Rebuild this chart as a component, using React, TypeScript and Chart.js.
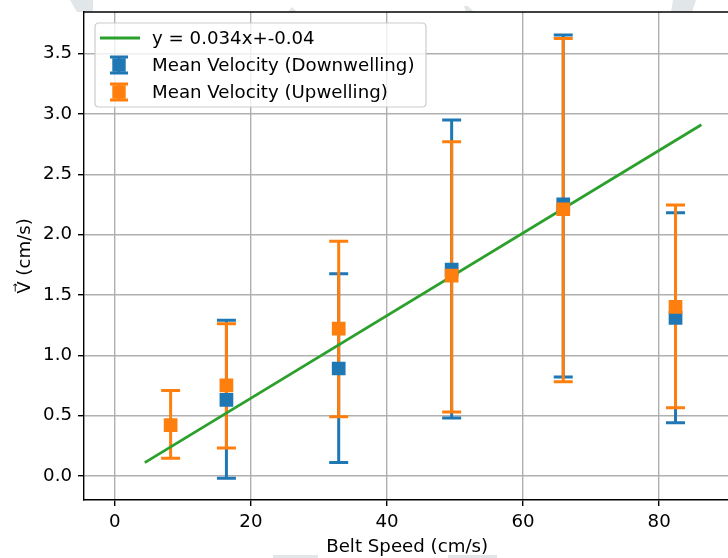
import { useEffect, useRef } from "react";
import { Chart, registerables } from "chart.js";

Chart.register(...registerables);

const fitLabel = "y = 0.034x+-0.04";
const downLabel = "Mean Velocity (Downwelling)";
const upLabel = "Mean Velocity (Upwelling)";
const xTitle = "Belt Speed (cm/s)";
const yTitle = "V\u20D7 (cm/s)";

const speedDown = [16.4, 32.9, 49.5, 65.9, 82.4];
const meanDown = [0.63, 0.89, 1.71, 2.25, 1.31];
const lowDown = [-0.02, 0.11, 0.48, 0.82, 0.44];
const highDown = [1.29, 1.675, 2.95, 3.655, 2.18];

const speedUp = [8.2, 16.4, 32.9, 49.5, 65.9, 82.4];
const meanUp = [0.42, 0.75, 1.22, 1.66, 2.21, 1.4];
const lowUp = [0.147, 0.23, 0.49, 0.53, 0.78, 0.565];
const highUp = [0.707, 1.26, 1.945, 2.77, 3.625, 2.245];

const fitX = [4.4, 86.2];
const fitY = [0.11, 2.91];

const xTicks = [0, 20, 40, 60, 80];
const yTicks = [0, 0.5, 1, 1.5, 2, 2.5, 3, 3.5];

const BLUE = "#1f77b4";
const ORANGE = "#ff7f0e";
const GREEN = "#2ca02c";
const FONT = "'DejaVu Sans', sans-serif";
const FS = 18.2;
const FIT_WIDTH = 2.8;

// Error bars sit below every marker and the fit line (matplotlib zorder).
const errorBarPlugin = {
  id: "errorBars",
  beforeDatasetsDraw(chart: any) {
    const ctx = chart.ctx;
    const xs = chart.scales.x;
    const ys = chart.scales.y;
    const sets = chart.data.datasets
      .filter((d: any) => d.errLow)
      .sort((a: any, b: any) => b.order - a.order);
    ctx.save();
    ctx.lineWidth = 3;
    sets.forEach((ds: any) => {
      ctx.strokeStyle = ds.backgroundColor;
      ds.data.forEach((p: any, i: number) => {
        const px = xs.getPixelForValue(p.x);
        const pLo = ys.getPixelForValue(ds.errLow[i]);
        const pHi = ys.getPixelForValue(ds.errHigh[i]);
        ctx.beginPath();
        ctx.moveTo(px, pLo);
        ctx.lineTo(px, pHi);
        ctx.moveTo(px - 9.5, pLo);
        ctx.lineTo(px + 9.5, pLo);
        ctx.moveTo(px - 9.5, pHi);
        ctx.lineTo(px + 9.5, pHi);
        ctx.stroke();
      });
    });
    ctx.restore();
  },
};

const framePlugin = {
  id: "frameTop",
  beforeDraw(chart: any) {
    // faint background watermark fragments visible at the page edges
    const ctx = chart.ctx;
    ctx.save();
    ctx.fillStyle = "#e1e6e9";
    const shapes = [
      [[70, 0], [93, 0], [93, 12], [77, 12]],
      [[288, 12], [292, 7], [297, 12]],
      [[464, 6], [468, 6], [474, 12], [466, 12]],
      [[673, 0], [696, 0], [692, 12], [671, 12]],
      [[273, 555], [318, 555], [318, 558], [273, 558]],
      [[448, 555], [497, 555], [497, 558], [448, 558]],
    ];
    shapes.forEach((s) => {
      ctx.beginPath();
      s.forEach(([x, y], i) => (i ? ctx.lineTo(x, y) : ctx.moveTo(x, y)));
      ctx.closePath();
      ctx.fill();
    });
    ctx.restore();
  },
  beforeDatasetsDraw(chart: any) {
    const { ctx, chartArea } = chart;
    ctx.save();
    ctx.strokeStyle = "#000";
    ctx.lineWidth = 1.4;
    ctx.beginPath();
    ctx.moveTo(chartArea.left, chartArea.top);
    ctx.lineTo(chartArea.right, chartArea.top);
    ctx.stroke();
    ctx.restore();
  },
};

function roundRect(ctx: CanvasRenderingContext2D, x: number, y: number, w: number, h: number, r: number) {
  ctx.beginPath();
  ctx.moveTo(x + r, y);
  ctx.lineTo(x + w - r, y);
  ctx.quadraticCurveTo(x + w, y, x + w, y + r);
  ctx.lineTo(x + w, y + h - r);
  ctx.quadraticCurveTo(x + w, y + h, x + w - r, y + h);
  ctx.lineTo(x + r, y + h);
  ctx.quadraticCurveTo(x, y + h, x, y + h - r);
  ctx.lineTo(x, y + r);
  ctx.quadraticCurveTo(x, y, x + r, y);
  ctx.closePath();
}

function drawErrGlyph(ctx: CanvasRenderingContext2D, x: number, y: number, color: string) {
  ctx.strokeStyle = color;
  ctx.fillStyle = color;
  ctx.lineWidth = 3;
  ctx.beginPath();
  ctx.moveTo(x, y - 8);
  ctx.lineTo(x, y + 8);
  ctx.moveTo(x - 9, y - 8);
  ctx.lineTo(x + 9, y - 8);
  ctx.moveTo(x - 9, y + 8);
  ctx.lineTo(x + 9, y + 8);
  ctx.stroke();
  ctx.fillRect(x - 6.7, y - 6.7, 13.4, 13.4);
}

const legendPlugin = {
  id: "mplLegend",
  afterDatasetsDraw(chart: any) {
    const { ctx, chartArea } = chart;
    const bx = chartArea.left + 11;
    const by = chartArea.top + 11;
    ctx.save();
    roundRect(ctx, bx, by, 331, 84, 4);
    ctx.fillStyle = "rgba(255,255,255,0.8)";
    ctx.fill();
    ctx.strokeStyle = "#cccccc";
    ctx.lineWidth = 1.2;
    ctx.stroke();

    const rows = [by + 15, by + 42, by + 69];
    ctx.strokeStyle = GREEN;
    ctx.lineWidth = FIT_WIDTH;
    ctx.beginPath();
    ctx.moveTo(bx + 5, rows[0]);
    ctx.lineTo(bx + 45, rows[0]);
    ctx.stroke();
    drawErrGlyph(ctx, bx + 24, rows[1], BLUE);
    drawErrGlyph(ctx, bx + 24, rows[2], ORANGE);

    ctx.fillStyle = "#000";
    ctx.font = `${FS}px ${FONT}`;
    ctx.textBaseline = "middle";
    ctx.textAlign = "left";
    const labels = [fitLabel, downLabel, upLabel];
    labels.forEach((t, i) => ctx.fillText(t, bx + 57, rows[i] + 1));
    ctx.restore();
  },
};

export default function App() {
  const ref = useRef<HTMLCanvasElement | null>(null);

  useEffect(() => {
    if (!ref.current) return;
    const chart = new Chart(ref.current, {
      type: "scatter",
      data: {
        datasets: [
          {
            label: upLabel,
            data: speedUp.map((x, i) => ({ x, y: meanUp[i] })),
            backgroundColor: ORANGE,
            borderColor: ORANGE,
            pointStyle: "rect",
            pointRadius: 9.7,
            pointBorderWidth: 0,
            order: 1,
            errLow: lowUp,
            errHigh: highUp,
          } as any,
          {
            label: downLabel,
            data: speedDown.map((x, i) => ({ x, y: meanDown[i] })),
            backgroundColor: BLUE,
            borderColor: BLUE,
            pointStyle: "rect",
            pointRadius: 9.7,
            pointBorderWidth: 0,
            order: 2,
            errLow: lowDown,
            errHigh: highDown,
          } as any,
          {
            label: fitLabel,
            data: fitX.map((x, i) => ({ x, y: fitY[i] })),
            showLine: true,
            borderColor: GREEN,
            backgroundColor: GREEN,
            borderWidth: FIT_WIDTH,
            pointRadius: 0,
            order: 3,
          } as any,
        ],
      },
      options: {
        animation: false,
        responsive: false,
        devicePixelRatio: 1,
        layout: { padding: { left: 0, top: 12, right: 2, bottom: 0 } },
        plugins: {
          legend: { display: false },
          tooltip: { enabled: false },
        },
        scales: {
          x: {
            type: "linear",
            min: -4.53,
            max: 90.45,
            afterBuildTicks: (s: any) => {
              s.ticks = xTicks.map((v) => ({ value: v }));
            },
            afterFit: (s: any) => {
              s.height = 58;
            },
            ticks: {
              color: "#000",
              font: { family: FONT, size: FS },
              padding: 5,
              maxRotation: 0,
              autoSkip: false,
              callback: (v: any) => String(v),
            },
            grid: {
              color: "#b0b0b0",
              lineWidth: 1.4,
              tickLength: 6,
              tickColor: "#000",
              tickWidth: 1.4,
            },
            border: { display: true, color: "#000", width: 1.4 },
            title: {
              display: true,
              text: xTitle,
              color: "#000",
              font: { family: FONT, size: FS },
              padding: { top: 0, bottom: 0 },
            },
          },
          y: {
            type: "linear",
            min: -0.2,
            max: 3.845,
            afterBuildTicks: (s: any) => {
              s.ticks = yTicks.map((v) => ({ value: v }));
            },
            afterFit: (s: any) => {
              s.width = 84;
              s.paddingTop = 0;
              s.paddingBottom = 0;
            },
            ticks: {
              color: "#000",
              font: { family: FONT, size: FS },
              padding: 6,
              autoSkip: false,
              callback: (v: any) => Number(v).toFixed(1),
            },
            grid: {
              color: "#b0b0b0",
              lineWidth: 1.4,
              tickLength: 6,
              tickColor: "#000",
              tickWidth: 1.4,
            },
            border: { display: true, color: "#000", width: 1.4 },
            title: {
              display: true,
              text: yTitle,
              color: "#000",
              font: { family: FONT, size: FS },
              padding: { top: 14.6, bottom: 0 },
            },
          },
        },
      } as any,
      plugins: [errorBarPlugin, framePlugin, legendPlugin],
    });
    return () => chart.destroy();
  }, []);

  return (
    <div
      style={{
        position: "fixed",
        left: 0,
        top: 0,
        width: 728,
        height: 558,
        overflow: "hidden",
        background: "#fff",
      }}
    >
      <canvas ref={ref} width={740} height={558} style={{ display: "block", width: 740, height: 558 }} />
    </div>
  );
}
